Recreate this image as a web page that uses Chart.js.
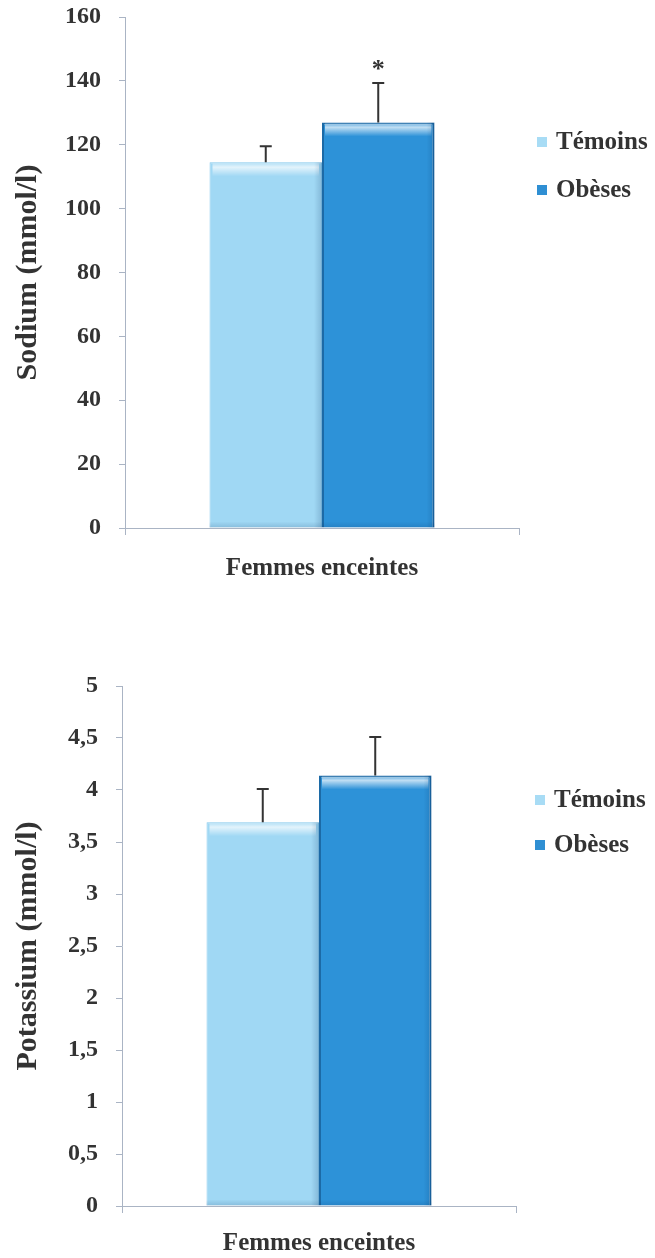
<!DOCTYPE html>
<html lang="fr">
<head>
<meta charset="UTF-8">
<title>Sodium et potassium - femmes enceintes</title>
<script src="https://cdn.jsdelivr.net/npm/chart.js"></script>
<style>
  html, body { margin: 0; padding: 0; background: #fff; }
  .bloc { position: absolute; left: 0; width: 655px; }
</style>
</head>
<body>
<div class="bloc" style="top:0;height:600px"><canvas id="sodium"></canvas></div>
<div class="bloc" style="top:640px;height:618px"><canvas id="potassium"></canvas></div>

<script>
  // Données
  const categories = ['Femmes enceintes'];
  const groupes = ['Témoins', 'Obèses'];

  const sodiumMoy = [114.5, 127];
  const sodiumEt = [5, 12.3];
  const sodiumSig = ['', '*'];
  const sodiumEchelle = [0, 160, 20];   // min, max, pas

  const potassiumMoy = [3.69, 4.14];
  const potassiumEt = [0.32, 0.37];
  const potassiumSig = ['', ''];
  const potassiumEchelle = [0, 5, 0.5];

  const police = '"Liberation Serif", "Times New Roman", serif';
  const couleurs = {
    fond: ['#a0d8f4', '#2d92d8'],
    bord: ['#86c8ec', '#1c6aa6'],
    legende: ['#a8dcf5', '#2f8fd3']
  };
  const gris = '#aab4c4';

  // reflets façon Excel sur chaque barre
  const biseau = {
    id: 'biseau',
    afterDatasetsDraw(chart) {
      const ctx = chart.ctx;
      chart.data.datasets.forEach((ds, i) => {
        chart.getDatasetMeta(i).data.forEach(bar => {
          const g = bar.x - bar.width / 2, d = bar.x + bar.width / 2;
          const h = bar.y, b = bar.base;
          ctx.save();
          let grad = ctx.createLinearGradient(0, h, 0, h + 14);
          grad.addColorStop(0, 'rgba(255,255,255,0.15)');
          grad.addColorStop(0.35, 'rgba(255,255,255,0.7)');
          grad.addColorStop(1, 'rgba(255,255,255,0)');
          ctx.fillStyle = grad;
          ctx.fillRect(g + 3, h + 1, d - g - 6, 14);
          grad = ctx.createLinearGradient(d - 8, 0, d, 0);
          grad.addColorStop(0, 'rgba(0,40,90,0)');
          grad.addColorStop(1, 'rgba(0,40,90,0.18)');
          ctx.fillStyle = grad;
          ctx.fillRect(d - 8, h, 8, b - h);
          grad = ctx.createLinearGradient(0, b - 6, 0, b);
          grad.addColorStop(0, 'rgba(0,40,90,0)');
          grad.addColorStop(1, 'rgba(0,40,90,0.15)');
          ctx.fillStyle = grad;
          ctx.fillRect(g, b - 6, d - g, 6);
          ctx.restore();
        });
      });
    }
  };

  // barres d'erreur + astérisque
  const erreurs = {
    id: 'erreurs',
    afterDatasetsDraw(chart) {
      const ctx = chart.ctx;
      const y = chart.scales.y;
      chart.data.datasets.forEach((ds, i) => {
        chart.getDatasetMeta(i).data.forEach((bar, j) => {
          const haut = y.getPixelForValue(ds.data[j] + ds.et[j]);
          ctx.save();
          ctx.strokeStyle = '#333';
          ctx.lineWidth = 2;
          ctx.beginPath();
          ctx.moveTo(bar.x, bar.y);
          ctx.lineTo(bar.x, haut);
          ctx.moveTo(bar.x - 6, haut);
          ctx.lineTo(bar.x + 6, haut);
          ctx.stroke();
          if (ds.sig[j]) {
            ctx.fillStyle = '#333';
            ctx.font = 'bold 26px ' + police;
            ctx.textAlign = 'center';
            ctx.textBaseline = 'middle';
            ctx.fillText(ds.sig[j], bar.x, haut - 13);
          }
          ctx.restore();
        });
      });
    }
  };

  // légende à droite
  const legendeDroite = {
    id: 'legendeDroite',
    afterDraw(chart, args, opts) {
      const ctx = chart.ctx;
      ctx.save();
      ctx.font = 'bold 25px ' + police;
      ctx.textBaseline = 'middle';
      chart.data.datasets.forEach((ds, i) => {
        const y = opts.y + i * opts.ecart;
        ctx.fillStyle = couleurs.legende[i];
        ctx.fillRect(opts.x, y - 5, 10, 10);
        ctx.fillStyle = '#333';
        ctx.fillText(ds.label, opts.x + 19, y + 1);
      });
      ctx.restore();
    }
  };

  function creer(id, moy, et, sig, echelle, titre, cadre, leg) {
    new Chart(document.getElementById(id), {
      type: 'bar',
      data: {
        labels: categories,
        datasets: groupes.map((nom, i) => ({
          label: nom,
          data: [moy[i]],
          et: [et[i]],
          sig: [sig[i]],
          backgroundColor: couleurs.fond[i],
          borderColor: couleurs.bord[i],
          borderWidth: i === 1 ? 2 : 1,
          categoryPercentage: 0.571,
          barPercentage: 1
        }))
      },
      options: {
        responsive: true,
        maintainAspectRatio: false,
        animation: false,
        layout: { padding: { top: cadre.top, right: cadre.right, left: 0, bottom: 0 } },
        plugins: {
          legend: { display: false },
          tooltip: { enabled: false },
          legendeDroite: leg
        },
        scales: {
          x: {
            afterFit: s => { s.height = cadre.xHeight; },
            grid: { drawOnChartArea: false, color: gris, tickLength: 7 },
            border: { color: gris },
            ticks: { color: '#333', padding: cadre.xPad, font: { family: police, size: 25, weight: 'bold' } }
          },
          y: {
            min: echelle[0],
            max: echelle[1],
            afterFit: s => { s.width = cadre.left; s.paddingTop = 0; s.paddingBottom = 0; },
            grid: { drawOnChartArea: false, color: gris, tickLength: 6 },
            border: { color: gris },
            ticks: {
              stepSize: echelle[2],
              color: '#333',
              padding: 18,
              font: { family: police, size: 24, weight: 'bold' },
              callback: v => String(v).replace('.', ',')
            },
            title: {
              display: true,
              text: titre,
              color: '#333',
              padding: { top: 10, bottom: 0 },
              font: { family: police, size: 30, weight: 'bold' }
            }
          }
        }
      },
      plugins: [biseau, erreurs, legendeDroite]
    });
  }

  creer('sodium', sodiumMoy, sodiumEt, sodiumSig, sodiumEchelle, 'Sodium (mmol/l)',
    { top: 17, right: 136, left: 125, xHeight: 72, xPad: 19 },
    { x: 537, y: 142, ecart: 48 });

  creer('potassium', potassiumMoy, potassiumEt, potassiumSig, potassiumEchelle, 'Potassium (mmol/l)',
    { top: 46, right: 139, left: 122, xHeight: 52, xPad: 16 },
    { x: 535, y: 160, ecart: 45 });
</script>
</body>
</html>
